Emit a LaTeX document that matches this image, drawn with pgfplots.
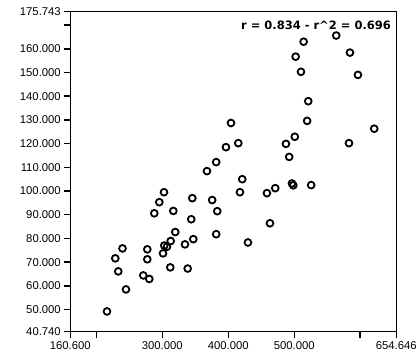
\documentclass[border=0pt]{standalone}
\usepackage{fontspec}
\setmainfont{Liberation Sans}
\newfontfamily\titlefont{DejaVu Sans}
\usepackage{pgfplots}
\pgfplotsset{compat=1.18}
\begin{document}
\begin{tikzpicture}
\path[use as bounding box] (0,0) rectangle (420bp,360bp);
\begin{axis}[
  at={(70.3bp,28.5bp)}, anchor=south west,
  scale only axis, width=326bp, height=320bp,
  xmin=160.6, xmax=654.646, ymin=40.74, ymax=175.743,
  axis line style={line width=1.5bp},
  tick pos=left, tick align=outside,
  major tick length=6bp,
  tick style={black, line width=1.5bp},
  xtick={160.6,200,300,400,500,600,654.646},
  xticklabels={160.600,,300.000,400.000,500.000,,654.646},
  ytick={40.74,50,60,70,80,90,100,110,120,130,140,150,160,170,175.743},
  yticklabels={40.740,50.000,60.000,70.000,80.000,90.000,100.000,110.000,120.000,130.000,140.000,150.000,160.000,,175.743},
  /pgf/number format/assume math mode=true,
  ticklabel style={font=\fontsize{11.3bp}{13bp}\selectfont, black},
  xticklabel style={yshift=-1bp},
  clip=false,
]
\addplot[only marks, mark=o, mark size=3.4bp, mark options={line width=1.8bp, black}] table {
x y
216.2 49.2
245.0 58.5
233.3 66.1
228.8 71.6
239.7 75.8
271.2 64.4
280.3 62.9
277.3 71.2
277.3 75.4
301.1 73.7
303.0 77.0
307.1 76.5
312.7 78.9
319.7 82.7
312.1 67.8
338.5 67.3
334.4 77.5
347.0 79.7
381.7 81.8
429.8 78.3
287.9 90.6
295.5 95.3
302.6 99.5
316.7 91.6
345.5 97.0
343.9 88.1
375.6 96.2
383.3 91.5
367.7 108.4
381.7 112.2
396.5 118.5
415.2 120.2
404.1 128.7
421.2 105.0
417.7 99.5
458.6 99.1
471.2 101.2
463.2 86.4
496.5 103.2
498.5 102.4
525.6 102.5
492.3 114.4
487.4 119.9
500.8 122.9
519.5 129.6
521.2 137.9
510.2 150.3
502.1 156.7
514.2 163.0
563.6 165.6
584.4 158.4
596.5 149.0
582.9 120.2
621.2 126.3
};
\node[anchor=east, inner sep=0pt, font=\titlefont\bfseries\fontsize{11.5bp}{13bp}\selectfont] at (rel axis cs:0.984,0.958) {r = 0.834 - r\textasciicircum 2 = 0.696};
\end{axis}
\end{tikzpicture}
\end{document}
